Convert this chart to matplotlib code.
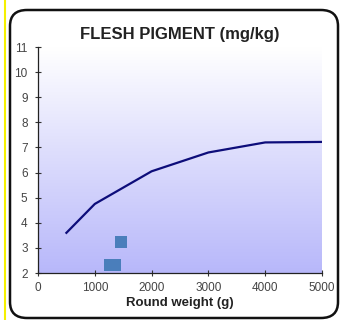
import matplotlib
matplotlib.use("Agg")
import matplotlib.pyplot as plt
import numpy as np
from matplotlib.patches import FancyBboxPatch
from matplotlib.lines import Line2D

plt.rcParams['font.family'] = ['Liberation Sans', 'DejaVu Sans']

line_x = [500, 1000, 2000, 3000, 4000, 5000]
line_y = [3.6, 4.75, 6.05, 6.8, 7.2, 7.22]
pts_x = [1260, 1350, 1470]
pts_y = [2.33, 2.33, 3.22]
x_ticks = [0, 1000, 2000, 3000, 4000, 5000]
y_ticks = [2, 3, 4, 5, 6, 7, 8, 9, 10, 11]

W, H = 341, 320
fig = plt.figure(figsize=(W/100, H/100), dpi=100)
fig.patch.set_facecolor('white')

# rounded frame
box = FancyBboxPatch((10/W, 2/H), 328/W, 308/H, boxstyle="round,pad=0,rounding_size=0.05",
                     transform=fig.transFigure, facecolor='none', edgecolor='#111111',
                     linewidth=1.8, zorder=10)
fig.patches.append(box)
# yellow left line
fig.lines.append(Line2D([4.5/W, 4.5/W], [0, 1], transform=fig.transFigure, color='#f5f000', linewidth=1.5))

ax = fig.add_axes([38/W, 1 - 273/H, (322-38)/W, (273-47)/H])

# gradient background
grad = np.linspace(0, 1, 256).reshape(-1, 1)
top = np.array([1.0, 1.0, 1.0])
bot = np.array([0.72, 0.72, 0.98])
img = top + (bot - top) * grad[:, :, None]
ax.imshow(img, extent=[0, 5000, 2, 11], origin='upper', aspect='auto', zorder=0)
ax.set_xlim(0, 5000)
ax.set_ylim(2, 11)
ax.patch.set_alpha(0)

ax.plot(line_x, line_y, color='#0d0d7a', linewidth=1.6, zorder=3)
ax.scatter(pts_x, pts_y, marker='s', s=75, color='#4a7ebb', zorder=4, linewidths=0)

ax.set_xticks(x_ticks)
ax.set_yticks(y_ticks)
ax.set_xticklabels([str(v) for v in x_ticks])
ax.set_yticklabels([str(v) for v in y_ticks])
ax.tick_params(direction='inout', length=5, width=0.8, color='#333333', labelsize=8.5, labelcolor='#444444')
ax.tick_params(axis='y', pad=5)
ax.tick_params(axis='x', pad=4)
for s in ['top', 'right']:
    ax.spines[s].set_visible(False)
for s in ['left', 'bottom']:
    ax.spines[s].set_color('#222222')
    ax.spines[s].set_linewidth(0.9)

ax.set_xlabel('Round weight (g)', fontsize=9.5, fontweight='bold', color='#222222', labelpad=2)
fig.text(180/W, 1 - 35/H, 'FLESH PIGMENT (mg/kg)', fontsize=12, fontweight='bold', color='#222222',
         ha='center', va='center')

fig.savefig('out.png', dpi=100)
